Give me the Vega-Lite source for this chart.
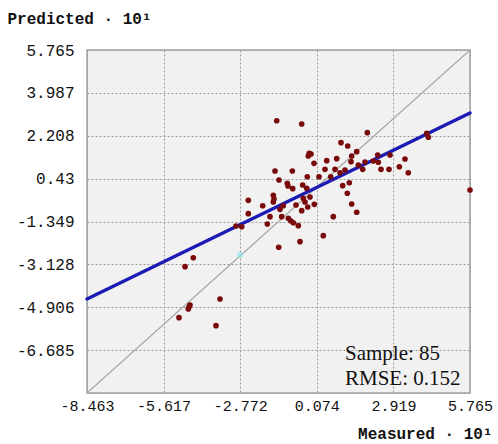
{
  "$schema": "https://vega.github.io/schema/vega-lite/v6.json",
  "width": 383,
  "height": 343,
  "autosize": {"type": "none"},
  "padding": {"left": 87, "top": 50, "right": 28, "bottom": 51},
  "background": "white",
  "config": {
    "view": {"fill": "#f1f1f1", "stroke": "#a3a3a3", "strokeWidth": 1.5},
    "axis": {
      "grid": true, "gridColor": "#9a9a9a", "gridDash": [2, 2], "gridWidth": 1,
      "ticks": false, "domain": false,
      "labelFont": "Liberation Mono", "labelFontSize": 16, "labelColor": "#111",
      "titleFont": "Liberation Mono", "titleFontSize": 16, "titleFontWeight": "bold", "titleColor": "#111"
    }
  },
  "datasets": {
    "points": [
      {"measured": -1.416, "predicted": 2.832}, {"measured": -0.487, "predicted": 2.695},
      {"measured": 1.950, "predicted": 2.335}, {"measured": 4.157, "predicted": 2.310},
      {"measured": 4.216, "predicted": 2.144}, {"measured": 0.973, "predicted": 1.920},
      {"measured": 1.222, "predicted": 1.783}, {"measured": -0.205, "predicted": 1.480},
      {"measured": -0.242, "predicted": 1.368}, {"measured": 1.556, "predicted": 1.547},
      {"measured": 1.370, "predicted": 1.368}, {"measured": 0.813, "predicted": 1.256},
      {"measured": 0.442, "predicted": 1.173}, {"measured": 1.344, "predicted": 1.132},
      {"measured": -0.030, "predicted": 1.065}, {"measured": 2.336, "predicted": 1.409},
      {"measured": 2.793, "predicted": 1.409}, {"measured": 2.173, "predicted": 1.161},
      {"measured": 2.359, "predicted": 1.107}, {"measured": 3.350, "predicted": 1.244},
      {"measured": 1.616, "predicted": 0.995}, {"measured": 1.779, "predicted": 0.816},
      {"measured": 2.459, "predicted": 0.816}, {"measured": 2.756, "predicted": 0.816},
      {"measured": 3.139, "predicted": 0.924}, {"measured": 3.473, "predicted": 0.675},
      {"measured": -1.479, "predicted": 0.746}, {"measured": -0.836, "predicted": 0.746},
      {"measured": 0.378, "predicted": 0.816}, {"measured": 0.750, "predicted": 0.816},
      {"measured": 0.936, "predicted": 0.675}, {"measured": -0.279, "predicted": 0.509},
      {"measured": 0.156, "predicted": 0.509}, {"measured": 0.590, "predicted": 0.509},
      {"measured": -1.330, "predicted": 0.372}, {"measured": -1.022, "predicted": 0.236},
      {"measured": -0.450, "predicted": 0.165}, {"measured": -0.821, "predicted": 0.012},
      {"measured": -0.301, "predicted": 0.028}, {"measured": 1.281, "predicted": 0.260},
      {"measured": 1.036, "predicted": 0.136}, {"measured": 1.207, "predicted": -0.179},
      {"measured": -1.542, "predicted": -0.262}, {"measured": -2.471, "predicted": -0.470},
      {"measured": -1.542, "predicted": -0.540}, {"measured": -1.936, "predicted": -0.694},
      {"measured": -0.428, "predicted": -0.387}, {"measured": -1.171, "predicted": -0.694},
      {"measured": -0.019, "predicted": -0.636}, {"measured": -0.264, "predicted": -0.748},
      {"measured": 1.370, "predicted": -0.623}, {"measured": 5.765, "predicted": -0.042},
      {"measured": -1.293, "predicted": -0.843}, {"measured": -0.487, "predicted": -0.901},
      {"measured": -0.179, "predicted": -0.333}, {"measured": 1.556, "predicted": -0.967},
      {"measured": -2.471, "predicted": -1.025}, {"measured": -1.665, "predicted": -1.150},
      {"measured": -1.230, "predicted": -1.150}, {"measured": -0.985, "predicted": -1.216},
      {"measured": -0.896, "predicted": -1.316}, {"measured": -0.799, "predicted": -1.399},
      {"measured": -0.613, "predicted": -1.523}, {"measured": -1.765, "predicted": -1.453},
      {"measured": 0.687, "predicted": -1.150}, {"measured": 0.315, "predicted": -1.938},
      {"measured": -2.928, "predicted": -1.536}, {"measured": -2.716, "predicted": -1.565},
      {"measured": -0.550, "predicted": -2.187}, {"measured": -1.342, "predicted": -2.419},
      {"measured": -4.514, "predicted": -2.851}, {"measured": -4.822, "predicted": -3.224},
      {"measured": -3.522, "predicted": -4.564}, {"measured": -4.637, "predicted": -4.813},
      {"measured": -4.700, "predicted": -4.979}, {"measured": -5.045, "predicted": -5.339},
      {"measured": -3.671, "predicted": -5.671}, {"measured": -0.699, "predicted": -0.665},
      {"measured": -0.365, "predicted": -0.540}, {"measured": 1.121, "predicted": 0.787},
      {"measured": -0.142, "predicted": 1.451}, {"measured": -0.996, "predicted": 0.124},
      {"measured": 1.864, "predicted": 1.119}, {"measured": -4.674, "predicted": -4.896},
      {"measured": -1.516, "predicted": -0.416}
    ],
    "diag": [
      {"measured": -8.463, "predicted": -8.463},
      {"measured": 5.765, "predicted": 5.765}
    ],
    "fit": [
      {"measured": -8.463, "predicted": -4.564},
      {"measured": 5.765, "predicted": 3.152}
    ],
    "highlight": [
      {"measured": -2.779, "predicted": -2.739}
    ],
    "stats": [
      {"line": "Sample: 85", "order": 1},
      {"line": "RMSE: 0.152", "order": 2}
    ]
  },
  "layer": [
    {
      "data": {"name": "diag"},
      "mark": {"type": "line", "color": "#a8a8a8", "strokeWidth": 1.2},
      "encoding": {
        "x": {
          "field": "measured", "type": "quantitative",
          "scale": {"domain": [-8.463, 5.765], "nice": false, "zero": false},
          "axis": {
            "values": [-8.463, -5.617, -2.772, 0.074, 2.919, 5.765],
            "labelExpr": "'' + datum.value",
            "labelOverlap": false, "labelFlush": false, "labelBound": false,
            "labelFontSize": 15,
            "labelPadding": 5,
            "title": "Measured · 10¹",
            "titleAnchor": "end", "titleAlign": "right", "titleX": 405, "titleY": 45, "titleBaseline": "alphabetic"
          }
        },
        "y": {
          "field": "predicted", "type": "quantitative",
          "scale": {"domain": [-8.463, 5.765], "nice": false, "zero": false},
          "axis": {
            "values": [-8.463, -6.685, -4.906, -3.128, -1.349, 0.43, 2.208, 3.987, 5.765],
            "labelExpr": "datum.value < -8 ? '' : '' + datum.value",
            "labelOverlap": false, "labelFlush": false, "labelBound": false,
            "labelPadding": 13,
            "title": "Predicted · 10¹",
            "titleAngle": 0, "titleAlign": "left", "titleX": -80, "titleY": -27, "titleBaseline": "alphabetic"
          }
        }
      }
    },
    {
      "data": {"name": "fit"},
      "mark": {"type": "line", "color": "#1c1cb4", "strokeWidth": 3.5, "strokeCap": "round"},
      "encoding": {
        "x": {"field": "measured", "type": "quantitative"},
        "y": {"field": "predicted", "type": "quantitative"}
      }
    },
    {
      "data": {"name": "highlight"},
      "mark": {"type": "point", "filled": true, "shape": "circle", "size": 40, "color": "#8ee6ee", "opacity": 0.6},
      "encoding": {
        "x": {"field": "measured", "type": "quantitative"},
        "y": {"field": "predicted", "type": "quantitative"}
      }
    },
    {
      "data": {"name": "points"},
      "mark": {"type": "point", "filled": true, "shape": "circle", "size": 32, "color": "#7a0a0a", "opacity": 1},
      "encoding": {
        "x": {"field": "measured", "type": "quantitative"},
        "y": {"field": "predicted", "type": "quantitative"}
      }
    },
    {
      "data": {"name": "stats"},
      "mark": {"type": "text", "font": "Liberation Serif", "fontSize": 21, "align": "left", "baseline": "alphabetic", "color": "#111"},
      "encoding": {
        "x": {"datum": 1.12, "type": "quantitative"},
        "y": {"datum": -7.09, "type": "quantitative"},
        "yOffset": {"field": "order", "type": "quantitative", "scale": {"domain": [1, 2], "range": [0, 25]}, "legend": null},
        "text": {"field": "line"}
      }
    }
  ]
}
